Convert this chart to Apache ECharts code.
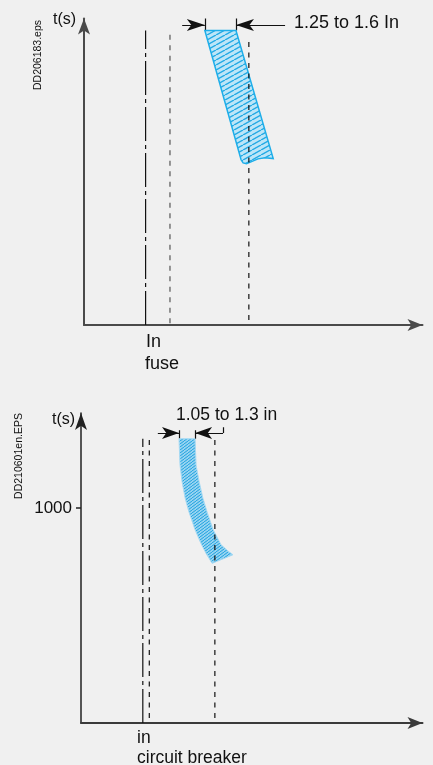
<!DOCTYPE html>
<html>
<head>
<meta charset="utf-8">
<script src="https://cdn.jsdelivr.net/npm/echarts@6/dist/echarts.min.js"></script>
<style>
html, body { margin: 0; padding: 0; background: #f0f0f0; }
#chart { width: 433px; height: 765px; }
</style>
</head>
<body>
<div id="chart"></div>
<script>
// ---- fuse diagram (top) : abstract current / time units 0..100 ----
var fuseMarkX = [18.2, 25.4, 48.7];        // In, low limit, high limit
var fuseMarkTop = [96.1, 96.1, 93.8];
var fuseMarkBottom = [0, 0.6, 1.6];
// outline of the fuse melting zone
var fuseBand = [
  [35.7, 96.1], [44.9, 96.1], [55.9, 54.3], [53.5, 54.6], [51.4, 54.2],
  [49.5, 53.3], [48.0, 52.6], [47.0, 52.9], [46.4, 53.9]
];
var fuseDimLeft = [[29.0, 97.9], [35.7, 97.9]];
var fuseDimRight = [[59.4, 97.9], [44.9, 97.9]];
var fuseTicks = [
  [[35.7, 96.1], [35.7, 100]],
  [[44.9, 96.1], [44.9, 100]]
];

// ---- circuit breaker diagram (bottom) : y is log10(t) ----
var breakerMarkX = [18.1, 20.0, 39.2];
var breakerMarkTop = [3.97, 3.97, 3.97];
var breakerMarkBottom = [0, 0.07, 0.07];
var breakerLeft = [
  [28.7, 3.97], [29.0, 3.60], [29.6, 3.37], [30.5, 3.14], [31.6, 2.95],
  [33.4, 2.70], [35.1, 2.51], [36.6, 2.37], [38.4, 2.23]
];
var breakerRight = [
  [33.4, 3.97], [33.7, 3.60], [34.6, 3.37], [35.7, 3.14], [36.9, 2.95],
  [38.7, 2.70], [41.0, 2.49], [43.1, 2.40], [44.5, 2.35]
];
var breakerDimLeft = [[22.5, 4.05], [28.7, 4.05]];
var breakerDimRight = [[41.6, 4.05], [33.4, 4.05]];
var breakerTicks = [
  [[28.7, 3.97], [28.7, 4.09]],
  [[33.4, 3.97], [33.4, 4.09]],
  [[41.6, 4.05], [41.6, 4.13]]
];
var timeTicks = [3]; // log10(1000)

function hatch(w, h, bg, fg, lw) {
  var c = document.createElement('canvas');
  c.width = w; c.height = h;
  var ctx = c.getContext('2d');
  ctx.fillStyle = bg;
  ctx.fillRect(0, 0, w, h);
  ctx.strokeStyle = fg;
  ctx.lineWidth = lw;
  ctx.beginPath();
  for (var k = -1; k <= 1; k++) {
    ctx.moveTo(k * w, h);
    ctx.lineTo(k * w + w, 0);
  }
  ctx.stroke();
  return c;
}
var hatchTop = hatch(9, 5, '#bde6f8', '#22a9e4', 1.4);
var hatchBottom = hatch(4, 3, '#95d3f1', '#1fa2de', 1);

var dashDot = [34, 4, 4, 4];
var dashed = [5, 5.5];

function vlines(xs, y0s, y1s, g) {
  return xs.map(function (x, i) {
    return {
      type: 'line', xAxisIndex: g, yAxisIndex: g,
      data: [[x, y0s[i]], [x, y1s[i]]],
      symbol: 'none', silent: true,
      lineStyle: {
        color: i === 1 && g === 0 ? '#555' : '#111',
        width: 1.2,
        type: i === 0 ? dashDot : dashed
      }
    };
  });
}

function arrows(list, g, size) {
  return {
    type: 'lines', coordinateSystem: 'cartesian2d', xAxisIndex: g, yAxisIndex: g,
    symbol: ['none', 'arrow'], symbolSize: [size, size], silent: true,
    lineStyle: { color: '#111', width: 1.2, opacity: 1 },
    data: list.map(function (c) { return { coords: c }; })
  };
}

function ticks(list, g) {
  return {
    type: 'lines', coordinateSystem: 'cartesian2d', xAxisIndex: g, yAxisIndex: g,
    symbol: 'none', silent: true,
    lineStyle: { color: '#111', width: 1.2, opacity: 1 },
    data: list.map(function (c) { return { coords: c }; })
  };
}

var chart = echarts.init(document.getElementById('chart'));
var txt = '#111';
var ff = '"Liberation Sans", Arial, sans-serif';

var option = {
  animation: false,
  backgroundColor: '#f0f0f0',
  grid: [
    { left: 84, top: 18.5, width: 338.5, height: 306.5 },
    { left: 81, top: 413, width: 341.5, height: 310 }
  ],
  xAxis: [
    {
      gridIndex: 0, type: 'value', min: 0, max: 100,
      axisLine: { symbol: ['none', 'arrow'], symbolSize: [9, 15], lineStyle: { color: '#4a4a4a', width: 2 } },
      axisTick: { show: false }, axisLabel: { show: false }, splitLine: { show: false }
    },
    {
      gridIndex: 1, type: 'value', min: 0, max: 100,
      axisLine: { symbol: ['none', 'arrow'], symbolSize: [9, 15], lineStyle: { color: '#3a3a3a', width: 2 } },
      axisTick: { show: false }, axisLabel: { show: false }, splitLine: { show: false }
    }
  ],
  yAxis: [
    {
      gridIndex: 0, type: 'value', min: 0, max: 100,
      axisLine: { show: true, symbol: ['none', 'arrow'], symbolSize: [9, 16], lineStyle: { color: '#4a4a4a', width: 2 } },
      axisTick: { show: false }, axisLabel: { show: false }, splitLine: { show: false }
    },
    {
      gridIndex: 1, type: 'value', min: 0, max: 4.33,
      axisLine: { show: true, symbol: ['none', 'arrow'], symbolSize: [9, 17], lineStyle: { color: '#222', width: 1.5 } },
      axisTick: { show: true, customValues: timeTicks, length: 5, lineStyle: { color: '#222', width: 1.5 } },
      axisLabel: {
        show: true, customValues: timeTicks, margin: 9,
        fontSize: 17, color: txt, fontFamily: ff,
        formatter: function (v) { return String(Math.round(Math.pow(10, v))); }
      },
      splitLine: { show: false }
    }
  ],
  graphic: [
    { type: 'text', x: 53, y: 20, style: { text: 't(s)', font: '16px ' + ff, fill: txt, align: 'left', verticalAlign: 'middle' } },
    { type: 'text', x: 294, y: 23.5, style: { text: '1.25 to 1.6 In', font: '18px ' + ff, fill: txt, align: 'left', verticalAlign: 'middle' } },
    { type: 'text', x: 38, y: 55, rotation: Math.PI / 2, style: { text: 'DD206183.eps', font: '10.5px ' + ff, fill: txt, align: 'center', verticalAlign: 'middle' } },
    { type: 'text', x: 146, y: 342, style: { text: 'In', font: '18px ' + ff, fill: txt, align: 'left', verticalAlign: 'middle' } },
    { type: 'text', x: 145, y: 364, style: { text: 'fuse', font: '18px ' + ff, fill: txt, align: 'left', verticalAlign: 'middle' } },
    { type: 'text', x: 52, y: 420, style: { text: 't(s)', font: '16px ' + ff, fill: txt, align: 'left', verticalAlign: 'middle' } },
    { type: 'text', x: 176, y: 415, style: { text: '1.05 to 1.3 in', font: '17.5px ' + ff, fill: txt, align: 'left', verticalAlign: 'middle' } },
    { type: 'text', x: 19, y: 456, rotation: Math.PI / 2, style: { text: 'DD210601en.EPS', font: '10.5px ' + ff, fill: txt, align: 'center', verticalAlign: 'middle' } },
    { type: 'text', x: 137, y: 738, style: { text: 'in', font: '17.5px ' + ff, fill: txt, align: 'left', verticalAlign: 'middle' } },
    { type: 'text', x: 137, y: 758, style: { text: 'circuit breaker', font: '17.5px ' + ff, fill: txt, align: 'left', verticalAlign: 'middle' } }
  ],
  series: []
};

option.series = option.series
  .concat(vlines(fuseMarkX, fuseMarkBottom, fuseMarkTop, 0))
  .concat(vlines(breakerMarkX, breakerMarkBottom, breakerMarkTop, 1))
  .concat([
    {
      type: 'custom', coordinateSystem: 'cartesian2d', xAxisIndex: 0, yAxisIndex: 0,
      data: [0], silent: true, z: 3,
      renderItem: function (params, api) {
        return {
          type: 'polygon',
          shape: { points: fuseBand.map(function (p) { return api.coord(p); }) },
          style: { fill: { type: 'pattern', image: hatchTop, repeat: 'repeat' }, stroke: '#1eaee9', lineWidth: 1.5 }
        };
      }
    },
    {
      type: 'custom', coordinateSystem: 'cartesian2d', xAxisIndex: 1, yAxisIndex: 1,
      data: [0], silent: true, z: 3,
      renderItem: function (params, api) {
        var pts = breakerLeft.concat(breakerRight.slice().reverse());
        return {
          type: 'polygon',
          shape: { points: pts.map(function (p) { return api.coord(p); }) },
          style: { fill: { type: 'pattern', image: hatchBottom, repeat: 'repeat' }, stroke: '#a6daf4', lineWidth: 1 }
        };
      }
    },
    arrows([fuseDimLeft, fuseDimRight], 0, [9, 18]),
    ticks(fuseTicks, 0),
    arrows([breakerDimLeft, breakerDimRight], 1, [9, 17]),
    ticks(breakerTicks, 1)
  ]);

chart.setOption(option);
</script>
</body>
</html>
